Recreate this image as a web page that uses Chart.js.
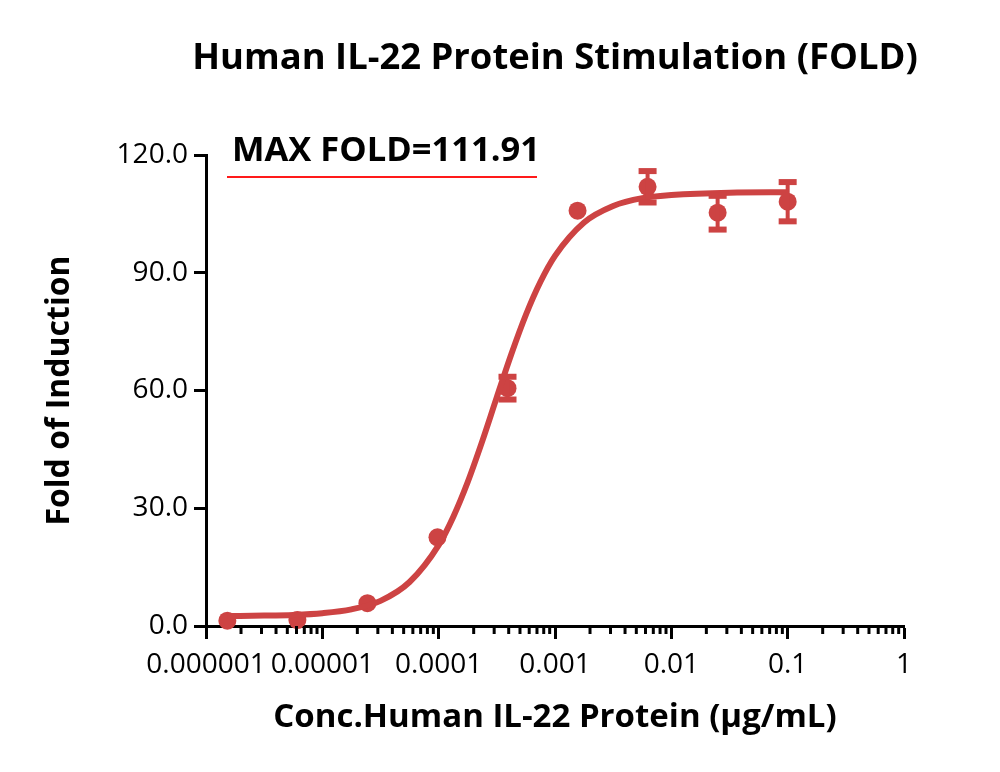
<!DOCTYPE html>
<html>
<head>
<meta charset="utf-8">
<script src="https://cdn.jsdelivr.net/npm/chart.js@4.4.0/dist/chart.umd.min.js"></script>
<style>
  html, body { margin: 0; padding: 0; background: #fff; }
  #wrap { width: 1000px; height: 772px; position: relative; }
</style>
</head>
<body>
<div id="wrap"><canvas id="foldChart" width="1000" height="772"></canvas></div>
<script>
// measured points (4-fold dilution, ug/mL)
const concentrations = [0.000001526, 0.000006104, 0.00002441, 0.00009766, 0.0003906, 0.0015625, 0.00625, 0.025, 0.1];
const foldMeans = [1.35, 1.5, 5.8, 22.6, 60.6, 105.8, 111.9, 105.3, 108.1];
// 0 = bar hidden behind the marker in the picture
const foldErrors = [0, 0, 0, 0, 2.9, 0, 4.0, 4.3, 5.0];

// fitted curve
const curveX = [0.000001528, 0.000003162, 0.000005623, 0.00001, 0.00001778, 0.00003162, 0.00005623, 0.0001,
  0.0001334, 0.0001778, 0.0002371, 0.0003162, 0.0004217, 0.0005623, 0.0007499, 0.001,
  0.001778, 0.003162, 0.005623, 0.01, 0.03162, 0.1];
const curveY = [2.55, 2.65, 2.83, 3.27, 4.25, 6.4, 11.2, 20.6,
  27.8, 36.7, 47.1, 58.3, 69.3, 79.3, 87.7, 94.3,
  102.8, 107.0, 109.0, 109.8, 110.4, 110.5];

const xTickValues = [0.000001, 0.00001, 0.0001, 0.001, 0.01, 0.1, 1];
const xTickLabels = ["0.000001", "0.00001", "0.0001", "0.001", "0.01", "0.1", "1"];
const yTicks = [0, 30, 60, 90, 120];

const titleText = "Human IL-22 Protein Stimulation (FOLD)";
const maxFoldText = "MAX FOLD=111.91";
const redColor = "#cd4343";
const fontName = "'Open Sans', 'Noto Sans', sans-serif";

// error bars + x minor ticks + title + MAX FOLD note
const extrasPlugin = {
  id: "extras",
  afterDatasetsDraw(chart) {
    const ctx = chart.ctx;
    const xs = chart.scales.x;
    const ys = chart.scales.y;
    ctx.save();
    ctx.fillStyle = redColor;
    ctx.strokeStyle = redColor;
    concentrations.forEach((c, i) => {
      if (!foldErrors[i]) return;
      const px = xs.getPixelForValue(c);
      const top = ys.getPixelForValue(foldMeans[i] + foldErrors[i]);
      const bot = ys.getPixelForValue(foldMeans[i] - foldErrors[i]);
      ctx.lineWidth = 4;
      ctx.beginPath();
      ctx.moveTo(px, top);
      ctx.lineTo(px, bot);
      ctx.stroke();
      ctx.fillRect(px - 9, top - 3, 18, 6);
      ctx.fillRect(px - 9, bot - 3, 18, 6);
    });
    ctx.restore();
  },
  afterDraw(chart) {
    const ctx = chart.ctx;
    const xs = chart.scales.x;
    const area = chart.chartArea;
    ctx.save();
    // minor ticks 2..9 per decade
    ctx.strokeStyle = "#000";
    ctx.lineWidth = 3;
    for (let d = -6; d < 0; d++) {
      for (let m = 2; m <= 9; m++) {
        const px = xs.getPixelForValue(m * Math.pow(10, d));
        ctx.beginPath();
        ctx.moveTo(px, area.bottom);
        ctx.lineTo(px, area.bottom + 8);
        ctx.stroke();
      }
    }
    ctx.fillStyle = "#000";
    ctx.textBaseline = "middle";
    // title, centred over the plot area (wider than it)
    ctx.font = "bold 36.4px " + fontName;
    ctx.textAlign = "center";
    ctx.fillText(titleText, (area.left + area.right) / 2, 59);
    // MAX FOLD label with red underline
    ctx.font = "bold 34.5px " + fontName;
    ctx.textAlign = "left";
    ctx.fillText(maxFoldText, 232, 151);
    ctx.strokeStyle = "#ff1a1a";
    ctx.lineWidth = 2;
    ctx.beginPath();
    ctx.moveTo(227, 177);
    ctx.lineTo(537, 177);
    ctx.stroke();
    ctx.restore();
  },
};

function initFoldChart() {
  const ctx = document.getElementById("foldChart").getContext("2d");
  new Chart(ctx, {
    data: {
      datasets: [
        {
          type: "line",
          data: curveX.map((x, i) => ({ x: x, y: curveY[i] })),
          borderColor: redColor,
          borderWidth: 6,
          pointRadius: 0,
          cubicInterpolationMode: "monotone",
          fill: false,
        },
        {
          type: "scatter",
          data: concentrations.map((x, i) => ({ x: x, y: foldMeans[i] })),
          backgroundColor: redColor,
          borderColor: redColor,
          pointRadius: 9,
          borderWidth: 0,
        },
      ],
    },
    options: {
      responsive: false,
      animation: false,
      clip: false,
      layout: { padding: { left: 0, right: 96, top: 155, bottom: 0 } },
      plugins: {
        legend: { display: false },
        tooltip: { enabled: false },
        title: { display: false },
      },
      scales: {
        x: {
          type: "logarithmic",
          min: 0.000001,
          max: 1,
          afterBuildTicks: (scale) => {
            scale.ticks = xTickValues.map((v) => ({ value: v }));
          },
          afterFit: (scale) => {
            scale.height = 146;
          },
          ticks: {
            autoSkip: false,
            maxRotation: 0,
            padding: 9,
            color: "#000",
            font: { family: fontName, size: 28 },
            callback: (value, i) => xTickLabels[i],
          },
          grid: {
            drawOnChartArea: false,
            drawTicks: true,
            tickLength: 13,
            tickWidth: 3,
            tickColor: "#000",
          },
          border: { display: true, width: 3, color: "#000" },
          title: {
            display: true,
            text: "Conc.Human IL-22 Protein (μg/mL)",
            color: "#000",
            font: { family: fontName, size: 33, weight: "bold" },
            padding: { top: 0, bottom: 35 },
          },
        },
        y: {
          min: 0,
          max: 120,
          afterBuildTicks: (scale) => {
            scale.ticks = yTicks.map((v) => ({ value: v }));
          },
          afterFit: (scale) => {
            scale.width = 206;
          },
          ticks: {
            padding: 6,
            color: "#000",
            font: { family: fontName, size: 28 },
            callback: (value) => Number(value).toFixed(1),
          },
          grid: {
            drawOnChartArea: false,
            drawTicks: true,
            tickLength: 12,
            tickWidth: 3,
            tickColor: "#000",
          },
          border: { display: true, width: 3, color: "#000" },
          title: {
            display: true,
            text: "Fold of Induction",
            color: "#000",
            font: { family: fontName, size: 32, weight: "bold" },
            padding: { top: 41, bottom: 0 },
          },
        },
      },
    },
    plugins: [extrasPlugin],
  });
}

document.addEventListener("DOMContentLoaded", initFoldChart);
</script>
</body>
</html>
